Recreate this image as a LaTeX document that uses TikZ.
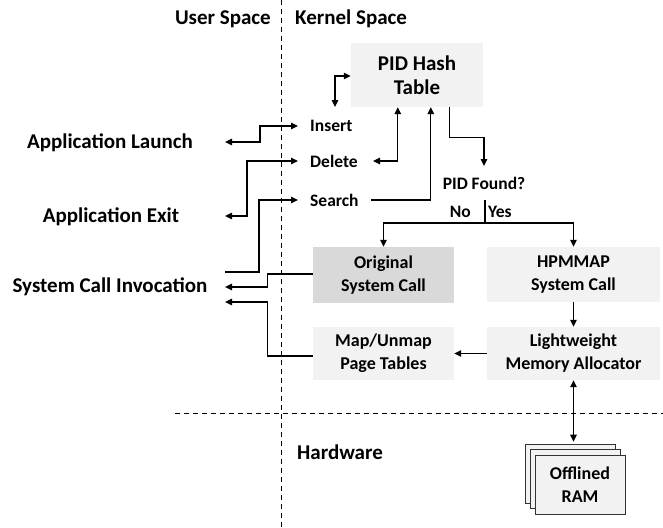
\documentclass[tikz,border=0pt]{standalone}
\usepackage{fontspec}
\setmainfont{Carlito}
\usetikzlibrary{arrows.meta}
\definecolor{lightbox}{HTML}{F2F2F2}
\definecolor{darkbox}{HTML}{D9D9D9}
\tikzset{
  biglabel/.style={font=\bfseries\fontsize{21}{24}\selectfont, inner sep=0pt},
  smalllabel/.style={font=\bfseries\fontsize{17.5}{20}\selectfont, inner sep=0pt},
  box/.style={fill=lightbox, draw=none, align=center, font=\bfseries\fontsize{18}{23}\selectfont, inner sep=0pt},
  ramcard/.style={fill=lightbox, draw=black!80, line width=0.6pt, minimum width=90pt, minimum height=59pt, inner sep=0pt},
  conn/.style={line width=1.3pt, -{Triangle[length=7pt,width=6.5pt]}},
  dconn/.style={line width=1.3pt, {Triangle[length=7pt,width=6.5pt]}-{Triangle[length=7pt,width=6.5pt]}},
  plain/.style={line width=1.3pt},
  divider/.style={line width=0.9pt, dash pattern=on 5pt off 4pt},
}
\begin{document}
\begin{tikzpicture}[x=1pt, y=-1pt]
\useasboundingbox (0,0) rectangle (663,527);

% dividers
\draw[divider] (281,0) -- (281,527);
\draw[divider] (175,413) -- (663,413);

% region labels
\node[biglabel, anchor=east] (user) at (271,19) {User Space};
\node[biglabel, anchor=west] (kernel) at (295,19) {Kernel Space};
\node[biglabel, anchor=west] (hw) at (297,452) {Hardware};

% left labels
\node[biglabel] (launch) at (110,143) {Application Launch};
\node[biglabel] (exit) at (111,217) {Application Exit};
\node[biglabel] (sci) at (110,287) {System Call Invocation};

% boxes
\node[box, font=\bfseries\fontsize{21}{24.5}\selectfont, minimum width=132pt, minimum height=64pt] (hash) at (417,75) {PID Hash\\Table};
\node[box, fill=darkbox, minimum width=141pt, minimum height=56pt] (orig) at (383.5,275) {Original\\System Call};
\node[box, minimum width=173pt, minimum height=55pt] (hpm) at (573.5,274.5) {HPMMAP\\System Call};
\node[box, minimum width=141pt, minimum height=53pt] (map) at (383.5,353.5) {Map/Unmap\\Page Tables};
\node[box, minimum width=173pt, minimum height=53pt] (lw) at (573.5,353.5) {Lightweight\\Memory Allocator};

% offlined RAM stack
\node[ramcard] (ram3) at (570,473.5) {};
\node[ramcard] (ram2) at (575,479) {};
\node[ramcard, align=center, font=\bfseries\fontsize{18}{23}\selectfont] (ram) at (580,484.5) {Offlined\\RAM};

% operation labels
\node[smalllabel, anchor=west] (insert) at (310,126) {Insert};
\node[smalllabel, anchor=west] (delete) at (310,161) {Delete};
\node[smalllabel, anchor=west] (search) at (310,200) {Search};
\node[smalllabel] (pidf) at (484,183) {PID Found?};
\node[smalllabel, anchor=east] (no) at (471,212) {No};
\node[smalllabel, anchor=west] (yes) at (488,212) {Yes};

% helper coordinates
\coordinate (launchEnd) at (225,142);
\coordinate (exitEnd) at (225,216);
\coordinate (sciA) at (225,287);
\coordinate (sciB) at (225,302);
\coordinate (sciC) at (225,272);
\coordinate (hashLoop) at (335,107);
\coordinate (split) at (485,223);
\coordinate (pidTop) at (484,166);

% user-space connectors
\draw[dconn] (launchEnd) -- ++(35,0) |- ([xshift=-12pt]insert.west);
\draw[dconn] (exitEnd) -- ++(22,0) |- ([xshift=-12pt]delete.west);
\draw[conn] (sciC) -- ++(34,0) |- ([xshift=-12pt]search.west);

% hash table connectors
\draw[dconn] ([yshift=-1pt]hash.west) -| (hashLoop);
\draw[dconn] (373,161) -| ([xshift=47pt]hash.south west);
\draw[conn] (371,200) -| ([xshift=80pt]hash.south west);
\draw[conn] ([xshift=99pt]hash.south west) -- ++(0,30) -| (pidTop);

% decision
\draw[plain] (485,200) -- (split);
\draw[conn] (split) -| (orig.north);
\draw[conn] (split) -| (hpm.north);

% kernel flow
\draw[conn] (hpm) -- (lw);
\draw[conn] (lw) -- (map);
\draw[dconn] (lw.south) -- ([yshift=2pt]ram3.north -| lw.south);

% returns to system call invocation
\draw[conn] ([yshift=1pt]orig.west) -- ++(-45,0) |- (sciA);
\draw[conn] ([yshift=-2.5pt]map.west) -- ++(-45,0) |- (sciB);
\end{tikzpicture}
\end{document}
